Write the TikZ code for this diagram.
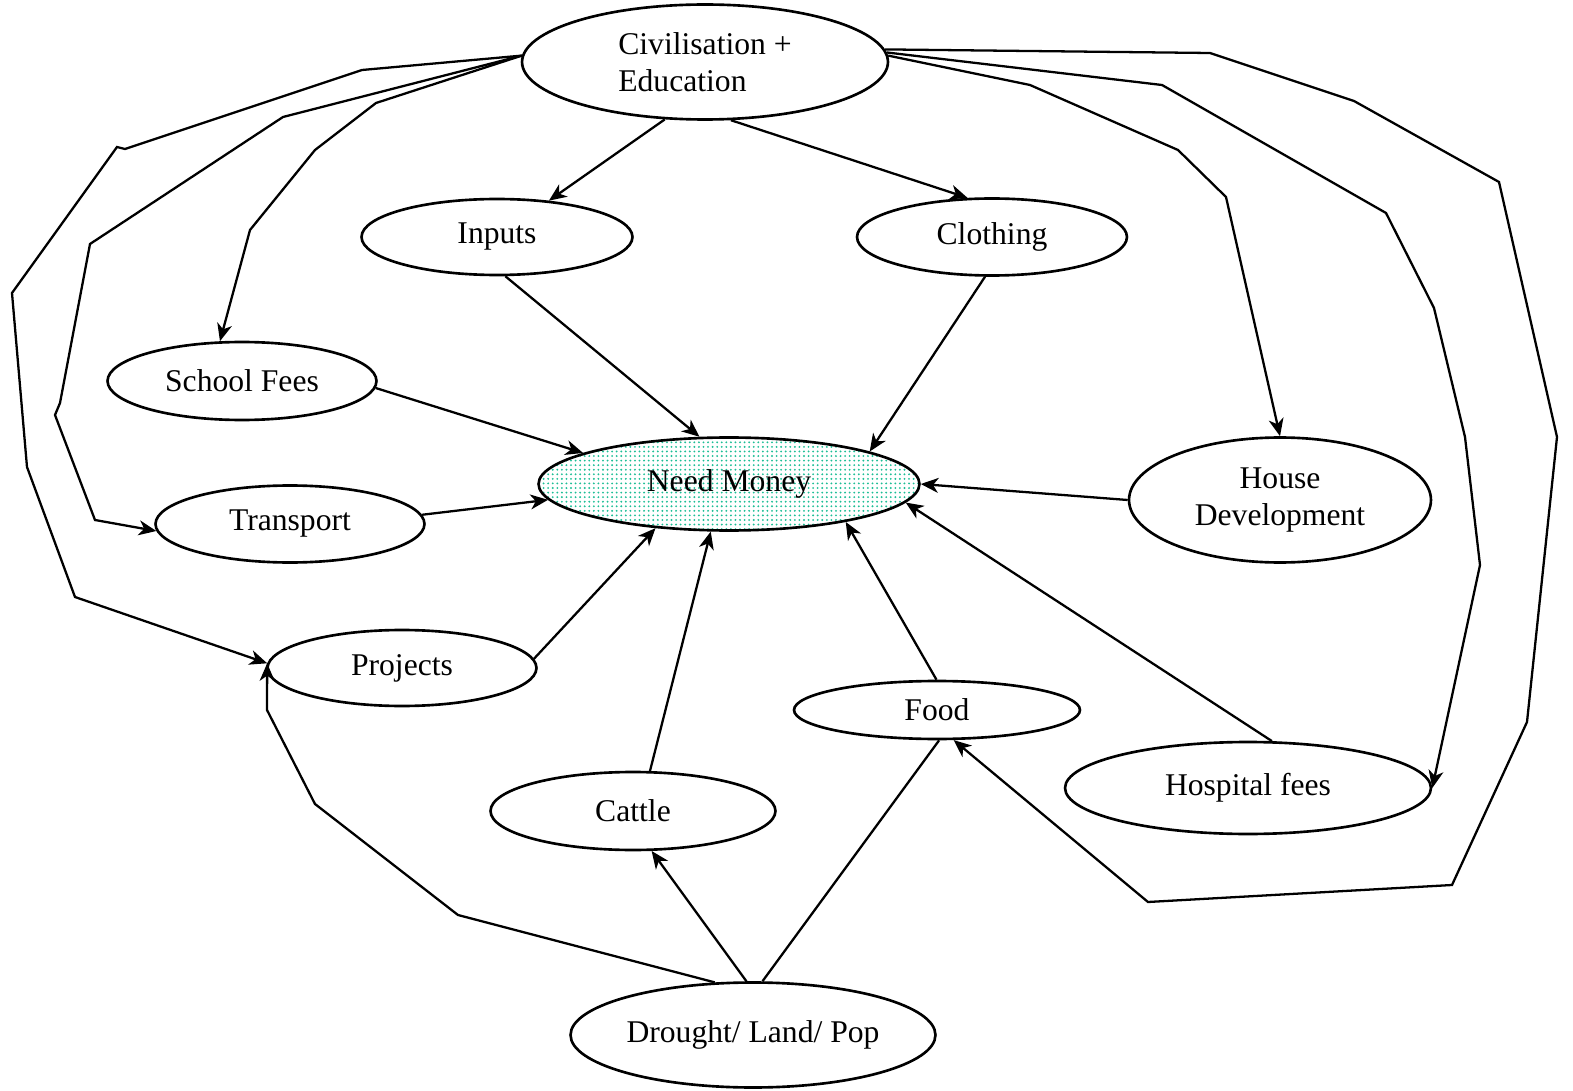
\documentclass[tikz,border=0pt]{standalone}
\usepackage{fontspec}
\setmainfont{Liberation Serif}
\usetikzlibrary{shapes.geometric,arrows.meta,patterns.meta}
\definecolor{mint}{RGB}{30,190,150}

\begin{document}
\begin{tikzpicture}[
        x=0.02cm, y=-0.02cm,
        every node/.style={font=\fontsize{18}{21}\selectfont},
        bubble/.style={draw, ellipse, line width=1.5pt, inner sep=0pt},
        arrow/.style={-{Stealth[length=10pt,width=8.5pt,inset=3pt]}, line width=1.3pt},
        link/.style={line width=1.3pt}
    ]
    \useasboundingbox (0,0) rectangle (1573,1091);

    % Nodes
    \node[bubble, minimum width=7.32cm, minimum height=2.30cm, align=left] (civ) at (705,62) {Civilisation +\\Education};
    \node[bubble, minimum width=5.42cm, minimum height=1.52cm] (inputs) at (497,237) {Inputs};
    \node[bubble, minimum width=5.40cm, minimum height=1.54cm] (clothing) at (992,237) {Clothing};
    \node[bubble, minimum width=5.38cm, minimum height=1.56cm] (school) at (242,381) {School Fees};
    \node[bubble, minimum width=5.38cm, minimum height=1.54cm] (transport) at (290,524) {Transport};
    \node[bubble, minimum width=7.62cm, minimum height=1.86cm,
          pattern={Dots[distance=2.6pt,radius=0.6pt]}, pattern color=mint] (need) at (729,484) {Need Money};
    \node[bubble, minimum width=6.04cm, minimum height=2.50cm, align=center] (house) at (1280,500) {House\\Development};
    \node[bubble, minimum width=5.38cm, minimum height=1.52cm] (projects) at (402,668) {Projects};
    \node[bubble, minimum width=5.72cm, minimum height=1.16cm] (food) at (937,710) {Food};
    \node[bubble, minimum width=5.70cm, minimum height=1.56cm] (cattle) at (633,811) {Cattle};
    \node[bubble, minimum width=7.32cm, minimum height=1.84cm] (hospital) at (1248,788) {Hospital fees};
    \node[bubble, minimum width=7.30cm, minimum height=2.10cm] (drought) at (753,1035) {Drought/ Land/ Pop};

    % Civilisation down to its needs
    \draw[arrow] (civ.235) -- (inputs.35);
    \draw[arrow] (civ.294) -- (clothing.122);

    % Everything into Need Money
    \draw[arrow] (inputs.282) -- (need.122);
    \draw[arrow] (clothing.260) -- (need.13);
    \draw[arrow] (school.357) -- (need.168);
    \draw[arrow] (transport.4) -- (need.185);
    \draw[arrow] (house.180) -- (need.east);
    \draw[arrow] (projects.4) -- (need.211);
    \draw[arrow] (cattle.67) -- (need.249);
    \draw[arrow] (food.91) -- (need.342);
    \draw[arrow] (hospital.63) -- (need.354);

    % Drought
    \draw[arrow] (drought.97) -- (cattle.295);
    \draw[link] (drought.80) -- (food.274);
    \draw[arrow] (drought.126) -- (458,915) -- (315,804) -- (267,710) -- (projects.178);

    % Long routes on the left
    \draw[arrow] (civ.178) -- (362,70) -- (125,149) -- (117,147) -- (12,293) -- (27,467) -- (75,597) -- (projects.178);
    \draw[arrow] (civ.178) -- (283,117) -- (90,244) -- (60,403) -- (55,415) -- (95,520) -- (transport.183);
    \draw[arrow] (civ.178) -- (376,103) -- (315,150) -- (250,230) -- (school.119);

    % Long routes on the right
    \draw[arrow] (civ.4) -- (1210,53) -- (1354,101) -- (1499,182) -- (1557,437) -- (1527,722) -- (1452,885) -- (1148,902) -- (food.299);
    \draw[arrow] (civ.3) -- (1162,85) -- (1386,213) -- (1434,308) -- (1465,437) -- (1480,565) -- (hospital.east);
    \draw[arrow] (civ.2) -- (1030,85) -- (1178,150) -- (1226,197) -- (house.90);

\end{tikzpicture}
\end{document}
